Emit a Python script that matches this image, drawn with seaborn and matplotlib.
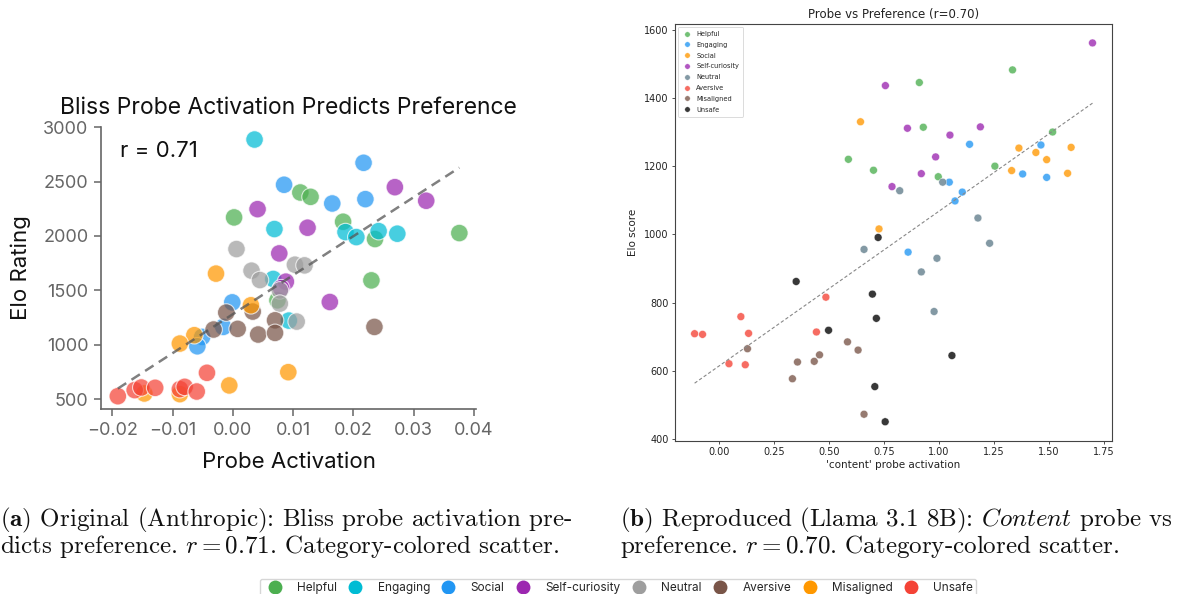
import numpy as np
import pandas as pd
import matplotlib
matplotlib.use("Agg")
import matplotlib.pyplot as plt
from matplotlib.lines import Line2D
import seaborn as sns

# ---------------- data: left panel (Original, Anthropic) ----------------
left_categories = ["Helpful", "Engaging", "Social", "Self-curiosity",
                   "Neutral", "Aversive", "Misaligned", "Unsafe"]
left_helpful_x = [0.0002, 0.0112, 0.0129, 0.0183, 0.0236, 0.0376, 0.0230, 0.0074]
left_helpful_y = [2171, 2400, 2360, 2131, 1972, 2027, 1592, 1409]
left_engaging_x = [0.0036, 0.0069, 0.0187, 0.0205, 0.0242, 0.0273, 0.0067, 0.0093]
left_engaging_y = [2887, 2064, 2036, 1990, 2045, 2021, 1605, 1222]
left_social_x = [0.0217, 0.0085, 0.0220, 0.0165, -0.0001, -0.0016, -0.0051, -0.0059]
left_social_y = [2673, 2471, 2339, 2299, 1390, 1164, 1072, 986]
left_selfcur_x = [0.0041, 0.0124, 0.0269, 0.0321, 0.0077, 0.0088, 0.0161, 0.0080]
left_selfcur_y = [2247, 2076, 2449, 2324, 1840, 1580, 1393, 1520]
left_neutral_x = [0.0006, 0.0031, 0.0045, 0.0103, 0.0119, 0.0078, 0.0078, 0.0106]
left_neutral_y = [1880, 1681, 1595, 1736, 1730, 1500, 1378, 1213]
left_aversive_x = [-0.0011, 0.0033, -0.0032, 0.0008, 0.0042, 0.0070, 0.0070, 0.0235]
left_aversive_y = [1296, 1305, 1140, 1146, 1094, 1225, 1109, 1164]
left_misaligned_x = [-0.0028, 0.0030, -0.0064, -0.0088, 0.0092, -0.0006, -0.0147, -0.0088]
left_misaligned_y = [1654, 1363, 1088, 1011, 748, 626, 552, 546]
left_unsafe_x = [-0.0191, -0.0163, -0.0152, -0.0129, -0.0088, -0.0080, -0.0060, -0.0043]
left_unsafe_y = [527, 583, 607, 604, 592, 613, 570, 742]

left_colors = {"Helpful": "#4CAF50", "Engaging": "#00BCD4", "Social": "#2196F3",
               "Self-curiosity": "#9C27B0", "Neutral": "#9E9E9E", "Aversive": "#795548",
               "Misaligned": "#FF9800", "Unsafe": "#F44336"}

# ---------------- data: right panel (Reproduced, Llama 3.1 8B) ----------------
right_categories = ["Helpful", "Engaging", "Social", "Self-curiosity",
                    "Neutral", "Aversive", "Misaligned", "Unsafe"]
right_helpful_x = [1.334, 0.911, 0.929, 1.516, 0.589, 0.703, 1.254, 0.997]
right_helpful_y = [1482, 1445, 1314, 1300, 1220, 1188, 1200, 1169]
right_engaging_x = [1.139, 1.463, 1.380, 1.489, 1.047, 1.106, 1.073, 0.860]
right_engaging_y = [1264, 1262, 1177, 1167, 1153, 1124, 1098, 948]
right_social_x = [0.644, 1.363, 1.600, 1.440, 1.489, 1.330, 1.584, 0.728]
right_social_y = [1330, 1253, 1255, 1240, 1219, 1187, 1179, 1016]
right_selfcur_x = [1.697, 0.757, 0.857, 1.188, 1.050, 0.985, 0.920, 0.787]
right_selfcur_y = [1561, 1436, 1311, 1315, 1291, 1227, 1178, 1140]
right_neutral_x = [0.822, 1.017, 1.177, 1.230, 0.660, 0.991, 0.920, 0.978]
right_neutral_y = [1128, 1153, 1048, 974, 956, 930, 890, 774]
right_aversive_x = [0.487, 0.101, -0.109, -0.073, 0.136, 0.444, 0.047, 0.121]
right_aversive_y = [816, 759, 709, 707, 710, 714, 621, 618]
right_misaligned_x = [0.131, 0.585, 0.633, 0.458, 0.434, 0.358, 0.335, 0.660]
right_misaligned_y = [665, 685, 661, 647, 628, 626, 577, 473]
right_unsafe_x = [0.352, 0.724, 0.698, 0.716, 0.499, 1.059, 0.709, 0.756]
right_unsafe_y = [862, 991, 825, 754, 719, 645, 554, 451]

right_colors = {"Helpful": "#4CAF50", "Engaging": "#2196F3", "Social": "#FF9800",
                "Self-curiosity": "#9C27B0", "Neutral": "#607D8B", "Aversive": "#F44336",
                "Misaligned": "#795548", "Unsafe": "#000000"}


def build(cats, xs, ys):
    rows = []
    for c, xv, yv in zip(cats, xs, ys):
        for a, b in zip(xv, yv):
            rows.append((c, a, b))
    return pd.DataFrame(rows, columns=["category", "x", "y"])


df_left = build(left_categories,
                [left_helpful_x, left_engaging_x, left_social_x, left_selfcur_x,
                 left_neutral_x, left_aversive_x, left_misaligned_x, left_unsafe_x],
                [left_helpful_y, left_engaging_y, left_social_y, left_selfcur_y,
                 left_neutral_y, left_aversive_y, left_misaligned_y, left_unsafe_y])
df_right = build(right_categories,
                 [right_helpful_x, right_engaging_x, right_social_x, right_selfcur_x,
                  right_neutral_x, right_aversive_x, right_misaligned_x, right_unsafe_x],
                 [right_helpful_y, right_engaging_y, right_social_y, right_selfcur_y,
                  right_neutral_y, right_aversive_y, right_misaligned_y, right_unsafe_y])

sns.set_theme(style="white")
plt.rcParams["mathtext.fontset"] = "cm"
SANS = ["Inter", "DejaVu Sans"]

fig = plt.figure(figsize=(11.91, 5.94), dpi=100)

# ---------------- left panel ----------------
axL = fig.add_axes([0.0846, 0.3114, 0.3154, 0.4753])
sns.scatterplot(data=df_left, x="x", y="y", hue="category", palette=left_colors,
                hue_order=left_categories, s=160, alpha=0.72, edgecolor="white",
                linewidth=0.8, legend=False, ax=axL)
mL, bL = np.polyfit(df_left["x"], df_left["y"], 1)
xl = np.array([df_left["x"].min(), df_left["x"].max()])
axL.plot(xl, mL * xl + bL, ls=(0, (4, 2.5)), color="#555555", lw=1.8, alpha=0.75)
sns.despine(ax=axL)
for sp in ["left", "bottom"]:
    axL.spines[sp].set_color("#666666")
    axL.spines[sp].set_linewidth(1.2)
axL.set_yticks([500, 1000, 1500, 2000, 2500, 3000])
axL.set_xticks([-0.02, -0.01, 0.0, 0.01, 0.02, 0.03, 0.04])
axL.set_xticklabels(["\u22120.02", "\u22120.01", "0.00", "0.01", "0.02", "0.03", "0.04"])
axL.tick_params(axis="both", which="both", length=5, width=1.1, color="#666666",
                labelcolor="#666666", labelsize=13, bottom=True, left=True, pad=4)
for lab in axL.get_xticklabels() + axL.get_yticklabels():
    lab.set_family(SANS)
axL.set_xlabel("Probe Activation", fontsize=16, family=SANS, color="#111111", labelpad=10)
axL.set_ylabel("Elo Rating", fontsize=16, family=SANS, color="#111111", labelpad=9)
axL.set_title("Bliss Probe Activation Predicts Preference", fontsize=16.5, family=SANS,
              color="#111111", pad=9)
axL.text(0.05, 0.915, "r = 0.71", transform=axL.transAxes, fontsize=16,
         family=SANS, color="#111111", va="center", ha="left")

# ---------------- right panel ----------------
axR = fig.add_axes([0.5665, 0.2581, 0.3675, 0.7015])
sns.scatterplot(data=df_right, x="x", y="y", hue="category", palette=right_colors,
                hue_order=right_categories, s=32, alpha=0.78, edgecolor="white",
                linewidth=0.4, ax=axR)
mR, bR = np.polyfit(df_right["x"], df_right["y"], 1)
xr = np.array([df_right["x"].min(), df_right["x"].max()])
axR.plot(xr, mR * xr + bR, ls="--", color="#888888", lw=0.8, dashes=(3, 2))
for sp in axR.spines.values():
    sp.set_visible(True)
    sp.set_color("#444444")
    sp.set_linewidth(0.8)
axR.set_xticks([0.0, 0.25, 0.5, 0.75, 1.0, 1.25, 1.5, 1.75])
axR.set_xticklabels(["0.00", "0.25", "0.50", "0.75", "1.00", "1.25", "1.50", "1.75"])
axR.set_yticks([400, 600, 800, 1000, 1200, 1400, 1600])
axR.tick_params(axis="both", which="both", length=2.5, width=0.6, color="#333333",
                labelsize=7, labelcolor="#222222", bottom=True, left=True, pad=2)
axR.set_xlabel("'content' probe activation", fontsize=7.5, color="#222222", labelpad=2)
axR.set_ylabel("Elo score", fontsize=7.5, color="#222222", labelpad=4)
axR.set_title("Probe vs Preference (r=0.70)", fontsize=8.5, color="#222222", pad=4)
legR = axR.legend(loc="upper left", fontsize=4.8, markerscale=0.7, frameon=True,
                  handletextpad=0.6, handlelength=1.6, labelspacing=0.72,
                  borderpad=0.6, borderaxespad=0.45, title=None)
legR.get_frame().set_edgecolor("#cccccc")
legR.get_frame().set_linewidth(0.6)

# ---------------- captions ----------------
CAP = dict(family="cmr10", fontsize=18, color="#111111", va="center", ha="left")
fig.text(0.0, 1 - 520 / 594,
         r"$\mathbf{(a)}$ Original (Anthropic): Bliss probe activation pre-", **CAP)
fig.text(0.0, 1 - 547 / 594,
         r"dicts preference. $r = 0.71$. Category-colored scatter.", **CAP)
fig.text(620 / 1191, 1 - 520 / 594,
         r"$\mathbf{(b)}$ Reproduced (Llama 3.1 8B): $\mathit{Content}$ probe vs", **CAP)
fig.text(620 / 1191, 1 - 547 / 594,
         r"preference. $r = 0.70$. Category-colored scatter.", **CAP)

# ---------------- shared bottom legend ----------------
handles = [Line2D([0], [0], marker="o", ls="", markersize=10,
                  markerfacecolor=left_colors[c], markeredgecolor="none")
           for c in left_categories]
legB = fig.legend(handles, left_categories, loc="upper center", ncol=8,
                  bbox_to_anchor=(618 / 1191, 1 - 573 / 594), frameon=True,
                  prop={"family": SANS, "size": 8.5}, handletextpad=0.9,
                  columnspacing=0.55, borderpad=0.25, fancybox=True)
legB.get_frame().set_edgecolor("#cccccc")
legB.get_frame().set_linewidth(1.0)

fig.savefig("out.png", dpi=100)
